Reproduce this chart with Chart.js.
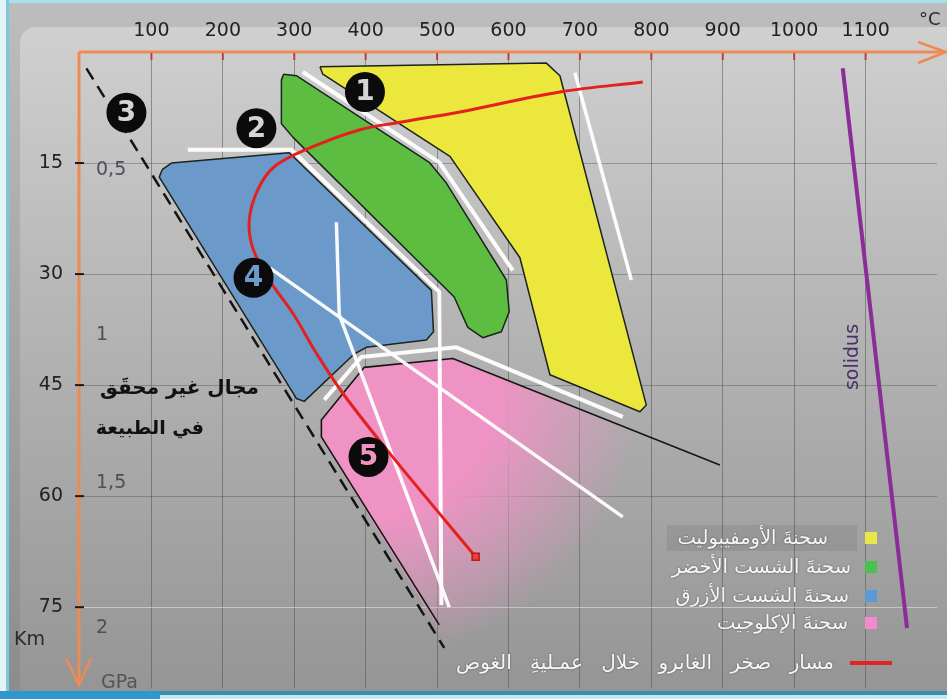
<!DOCTYPE html>
<html lang="ar">
<head>
  <meta charset="UTF-8"/>
  <title>سحنات التحول ومسار صخر الغابرو</title>
  <script src="https://cdn.jsdelivr.net/npm/chart.js"></script>
  <style>
    body { margin: 0; background: #fff; }
    #wrap { position: relative; width: 947px; height: 699px; overflow: hidden;
      background: linear-gradient(to bottom, #bdbdbd, #8c8c8c); font-family: 'DejaVu Sans', sans-serif; }
    #panel { position: absolute; left: 20px; top: 27px; right: -20px; bottom: -20px; border-radius: 16px;
      background: linear-gradient(to bottom, #d0d0d0, #b6b6b6 40%, #939393); }
    .edge { position: absolute; }
    #pt { position: absolute; left: 0; top: 0; }
    .lg { position: absolute; direction: rtl; white-space: nowrap; color: #f7f7f7; font-size: 19.5px;
      line-height: 24px; text-shadow: 0 0 2px rgba(0,0,0,.5); }
    .sw { position: absolute; width: 12px; height: 12px; }
    .note { position: absolute; direction: rtl; white-space: nowrap; font-weight: bold; font-size: 20px;
      color: #111; line-height: 26px; }
  </style>
</head>
<body>
  <div id="wrap">
    <div id="panel"></div>
    <div class="edge" style="left:0;top:0;width:947px;height:3px;background:#a8dfee"></div>
    <div class="edge" style="left:0;top:0;width:6px;height:699px;background:#e4f3f8"></div>
    <div class="edge" style="left:6px;top:0;width:3px;height:699px;background:#7cc6e0"></div>
    <div class="edge" style="left:667px;top:525px;width:190px;height:26px;background:rgba(0,0,0,.07)"></div>
    <!-- canvas is a bit taller than the frame: the depth axis reserves room under its last label -->
    <canvas id="pt" width="947" height="717"></canvas>
    <div class="edge" style="left:0;top:691px;width:947px;height:4px;background:#3b8cae"></div>
    <div class="edge" style="left:0;top:695px;width:947px;height:4px;background:#c4e8f2"></div>
    <div class="edge" style="left:0;top:691px;width:160px;height:8px;background:#2f97cf"></div>
    <div id="legend"></div>
  </div>

  <script>
    // axes (temperature in °C, depth in km)
    const tempTicks = [100, 200, 300, 400, 500, 600, 700, 800, 900, 1000, 1100]
    const depthTicks = [15, 30, 45, 60, 75]
    const gpaLabels = ['0,5', '1', '1,5', '2']
    const gpaDepths = [15.9, 38.2, 58.2, 77.8]

    // facies fields
    const amphT = [336, 653, 672, 793, 784, 658, 616, 518, 340, 336]
    const amphD = [2.0, 1.5, 3.2, 47.7, 48.6, 43.6, 27.8, 14.1, 3.0, 2.0]
    const greenT = [285, 303, 489, 513, 597, 601, 590, 564, 543, 524, 298, 282, 282, 285]
    const greenD = [3.0, 3.2, 14.9, 17.7, 30.8, 35.1, 37.8, 38.6, 37.2, 33.1, 11.5, 9.7, 3.8, 3.0]
    const blueT = [115, 128, 293, 492, 495, 485, 401, 384, 314, 303, 111, 115]
    const blueD = [15.9, 15.0, 13.6, 32.2, 37.8, 38.9, 39.9, 40.8, 47.2, 46.8, 16.9, 15.9]
    const eclT = [896, 522, 398, 338, 338, 552, 896, 896]
    const eclD = [55.8, 41.4, 42.6, 49.7, 52.0, 86.0, 86.0, 55.8]
    const eclEdgeT = [896, 522, 398, 338, 338, 503]
    const eclEdgeD = [55.8, 41.4, 42.6, 49.7, 52.0, 77.4]

    // limit of the field not found in nature
    const limitT = [9, 510]
    const limitD = [2.2, 80.5]

    // reaction lines
    const white1T = [151, 296, 503, 506]
    const white1D = [13.2, 13.2, 32.4, 74.7]
    const white2T = [312, 503, 606]
    const white2D = [2.7, 14.9, 29.5]
    const white3T = [359, 363, 517]
    const white3D = [23.0, 35.5, 75.0]
    const white4T = [266, 760]
    const white4D = [29.2, 62.8]
    const white5T = [342, 394, 527, 760]
    const white5D = [47.0, 41.2, 39.9, 49.3]
    const white6T = [693, 772]
    const white6D = [2.8, 30.8]

    const solidusT = [1068, 1158]
    const solidusD = [2.2, 77.8]

    // gabbro path during subduction
    const pathT = [788, 672, 532, 448, 392, 321, 272, 249, 237, 242, 265, 298, 331, 368, 436, 554]
    const pathD = [4.05, 5.4, 8.1, 9.5, 10.5, 13.0, 15.5, 18.6, 22.7, 26.5, 30.8, 35.3, 40.7, 46.1, 54.5, 68.2]

    // numbered markers
    const markerT = [399, 247, 65, 243, 404]
    const markerD = [5.4, 10.3, 8.2, 30.5, 54.7]
    const markerLabels = ['1', '2', '3', '4', '5']

    const faciesNames = ['سحنةَ الأومفيبوليت', 'سحنةَ الشست الأخضر', 'سحنةَ الشست الأزرق', 'سحنةَ الإكلوجيت']
    const pathName = 'مسار صخر الغابرو خلال عمـليةِ الغوص'
    const noteLines = ['مجال غير محقَق', 'في الطبيعة']

    const faciesColors = ['#ebe73c', '#5dbd40', '#6b99c9', '#ee93c3']
    const swatchColors = ['#e9e84a', '#4cc04c', '#5b9bd5', '#f08ccc']
    const digitColors = ['#d4d4d4', '#d4d4d4', '#d4d4d4', '#6d9ac8', '#ee93c3']

    const xy = (ts, ds) => ts.map((t, i) => ({ x: t, y: ds[i] }))

    function field(ts, ds, color, order) {
      return { data: xy(ts, ds), showLine: true, fill: 'shape', backgroundColor: color,
        borderColor: '#1b241b', borderWidth: 1.5, borderJoinStyle: 'round', pointRadius: 0, order }
    }
    function line(ts, ds, color, width, order, dash) {
      return { data: xy(ts, ds), showLine: true, fill: false, borderColor: color, borderWidth: width,
        borderDash: dash || [], borderCapStyle: 'butt', borderJoinStyle: 'round', pointRadius: 0, order }
    }

    const pinkFade = c => {
      const ch = c.chart
      if (!ch.chartArea) return faciesColors[3]
      const cx = ch.scales.x.getPixelForValue(391), cy = ch.scales.y.getPixelForValue(44.3)
      const g = ch.ctx.createRadialGradient(cx, cy, 140, cx, cy, 285)
      g.addColorStop(0, 'rgba(238,147,195,1)')
      g.addColorStop(1, 'rgba(238,147,195,0)')
      return g
    }

    const eclogite = field(eclT, eclD, pinkFade, 16)
    eclogite.borderWidth = 0

    const white = 'rgba(255,255,255,0.95)'
    const datasets = [
      { data: xy(markerT, markerD), pointRadius: 20, pointHoverRadius: 20, pointBackgroundColor: '#0b0b0b',
        pointBorderWidth: 0, order: 0 },
      Object.assign(line(pathT, pathD, '#e3211e', 3, 1), { tension: 0.35,
        pointRadius: c => c.dataIndex === pathT.length - 1 ? 5 : 0,
        pointStyle: 'rect', pointBackgroundColor: '#e84040', pointBorderColor: '#c01818', pointBorderWidth: 1.5 }),
      line(solidusT, solidusD, '#8b2c99', 4, 2),
      line(white1T, white1D, white, 4, 3),
      line(white2T, white2D, white, 4, 3),
      line(white3T, white3D, white, 3.5, 3),
      line(white4T, white4D, white, 3.5, 3),
      line(white5T, white5D, white, 4, 3),
      line(white6T, white6D, white, 3.5, 3),
      line(limitT, limitD, '#141414', 2.5, 4, [13, 8]),
      line(eclEdgeT, eclEdgeD, '#161616', 1.6, 5),
      field(amphT, amphD, faciesColors[0], 10),
      field(greenT, greenD, faciesColors[1], 11),
      field(blueT, blueD, faciesColors[2], 12),
      eclogite
    ]

    const decor = {
      id: 'decor',
      afterDatasetsDraw(chart) {
        const { ctx, chartArea: a, scales: { x, y } } = chart
        ctx.save()

        // digits in the numbered markers
        const pts = chart.getDatasetMeta(0).data
        ctx.font = 'bold 28px "DejaVu Sans"'
        ctx.textAlign = 'center'
        ctx.textBaseline = 'middle'
        pts.forEach((p, i) => {
          ctx.fillStyle = digitColors[i]
          ctx.fillText(markerLabels[i], p.x, p.y + 1)
        })

        // orange axes with arrows
        ctx.strokeStyle = '#ee8a55'
        ctx.lineWidth = 3
        ctx.beginPath()
        ctx.moveTo(a.left - 1, a.top)
        ctx.lineTo(945, a.top)
        ctx.moveTo(a.left - 1, a.top)
        ctx.lineTo(a.left - 1, 684)
        ctx.stroke()
        ctx.lineWidth = 2.5
        ctx.beginPath()
        ctx.moveTo(918, 42); ctx.lineTo(946, a.top); ctx.lineTo(918, 63)
        ctx.moveTo(66, 658); ctx.lineTo(a.left - 1, 685); ctx.lineTo(91, 658)
        ctx.stroke()

        // tick marks
        ctx.strokeStyle = '#b84242'
        ctx.lineWidth = 2
        tempTicks.forEach(v => {
          const px = x.getPixelForValue(v)
          ctx.beginPath(); ctx.moveTo(px, a.top + 1); ctx.lineTo(px, a.top + 8); ctx.stroke()
        })
        ctx.strokeStyle = '#1a1a1a'
        depthTicks.forEach(v => {
          const py = y.getPixelForValue(v)
          ctx.beginPath(); ctx.moveTo(a.left - 5, py); ctx.lineTo(a.left + 4, py); ctx.stroke()
        })

        // pressure labels
        ctx.textAlign = 'left'
        ctx.font = '19px "DejaVu Sans"'
        ctx.fillStyle = '#4b505a'
        gpaLabels.forEach((t, i) => ctx.fillText(t, a.left + 16, y.getPixelForValue(gpaDepths[i])))
        ctx.fillStyle = '#555'
        ctx.fillText('GPa', a.left + 21, 683)
        ctx.fillStyle = '#2a2a2a'
        ctx.fillText('Km', 14, 640)
        ctx.font = '18px "DejaVu Sans"'
        ctx.fillText('°C', 919, 20)

        // solidus label
        ctx.save()
        ctx.translate(853, 357)
        ctx.rotate(-Math.PI / 2)
        ctx.textAlign = 'center'
        ctx.font = '19px "DejaVu Sans"'
        ctx.fillStyle = '#4a2f6a'
        ctx.fillText('solidus', 0, 0)
        ctx.restore()

        ctx.restore()
      }
    }

    const tickFont = { size: 19, family: 'DejaVu Sans' }

    new Chart(document.getElementById('pt'), {
      type: 'scatter',
      data: { datasets },
      options: {
        responsive: false,
        animation: false,
        layout: { autoPadding: false, padding: { top: 0, left: 0, right: 10, bottom: 0 } },
        plugins: { legend: { display: false }, tooltip: { enabled: false } },
        scales: {
          x: {
            type: 'linear', position: 'top', min: 0, max: 1200,
            afterBuildTicks: axis => { axis.ticks = tempTicks.map(v => ({ value: v })) },
            afterFit: axis => { axis.height = 52 },
            border: { display: false },
            grid: { color: 'rgba(75,75,75,0.5)', lineWidth: 1, drawTicks: false },
            ticks: { padding: 10, color: '#222', font: tickFont, autoSkip: false, maxRotation: 0,
              callback: v => String(v) }
          },
          y: {
            type: 'linear', min: 0, max: 86, reverse: true,
            afterBuildTicks: axis => { axis.ticks = depthTicks.map(v => ({ value: v })) },
            afterFit: axis => { axis.width = 80 },
            border: { display: false },
            grid: { color: c => c.tick && c.tick.value === 75 ? 'rgba(225,225,225,0.6)' : 'rgba(75,75,75,0.4)',
              lineWidth: 1, drawTicks: false },
            ticks: { padding: 17, color: '#222', font: tickFont, callback: v => String(v) }
          }
        }
      },
      plugins: [decor]
    })

    // legend and note as text over the chart
    const rowY = [538, 567, 596, 623]
    const rowRight = [828, 851, 849, 848]
    const legend = document.getElementById('legend')
    let html = ''
    faciesNames.forEach((n, i) => {
      html += `<div class="lg" style="right:${947 - rowRight[i]}px;top:${rowY[i] - 12}px">${n}</div>`
      html += `<div class="sw" style="left:865px;top:${rowY[i] - 6}px;background:${swatchColors[i]}"></div>`
    })
    html += `<div class="lg" style="right:${947 - 834}px;top:650px;font-size:20px;word-spacing:12px">${pathName}</div>`
    html += `<div class="sw" style="left:850px;top:661px;width:42px;height:4px;background:#e02424"></div>`
    html += `<div class="note" style="right:${947 - 259}px;top:374px">${noteLines[0]}</div>`
    html += `<div class="note" style="right:${947 - 204}px;top:414px;font-size:19px">${noteLines[1]}</div>`
    legend.innerHTML = html
  </script>
</body>
</html>
